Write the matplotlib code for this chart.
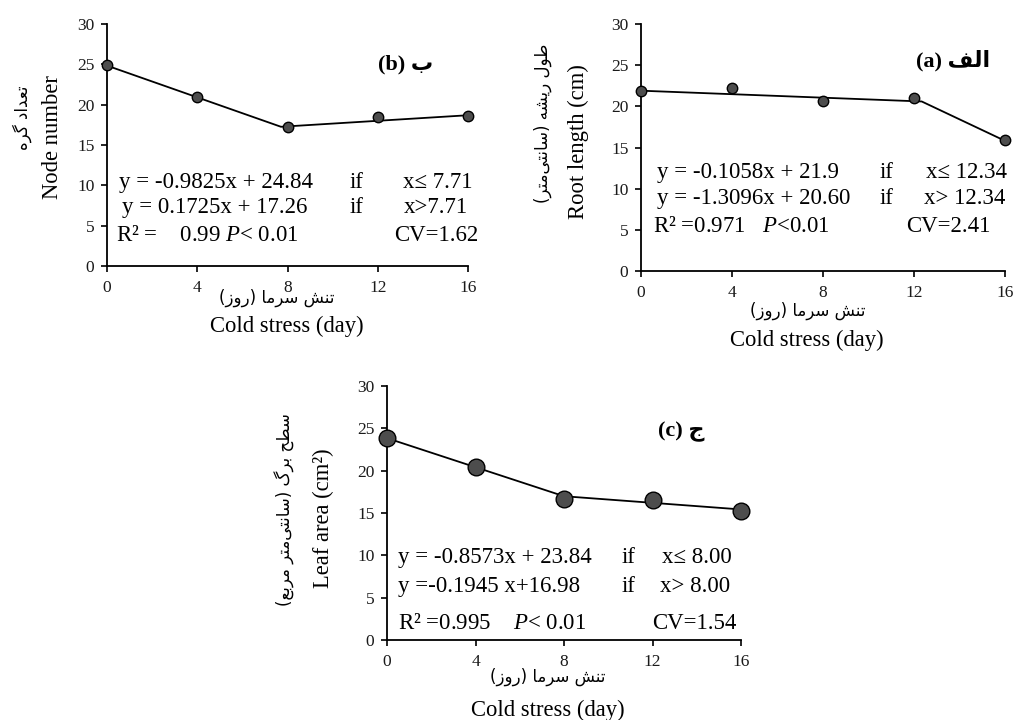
import matplotlib
matplotlib.use('Agg')
import matplotlib.pyplot as plt

plt.rcParams['font.family'] = ['Liberation Serif', 'DejaVu Sans']
plt.rcParams['mathtext.fontset'] = 'custom'
plt.rcParams['mathtext.rm'] = 'Liberation Serif'
plt.rcParams['mathtext.it'] = 'Liberation Serif:italic'

W, H = 1016, 720

days = [0, 4, 8, 12, 16]

# (b) node number
node = [24.9, 21.0, 17.2, 18.5, 18.6]
node_fit_x = [0, 7.71, 16]
node_fit_y = [24.84, 17.26, 18.69]

# (a) root length
root = [21.9, 22.2, 20.6, 21.0, 15.9]
root_fit_x = [0, 12.34, 16]
root_fit_y = [21.9, 20.59, 15.81]

# (c) leaf area
leaf = [23.85, 20.4, 16.7, 16.5, 15.2]
leaf_fit_x = [0, 8, 16]
leaf_fit_y = [23.84, 16.98, 15.42]

# Arabic presentation forms: isolated, final, initial, medial
FORMS = {
    'ا': ('\uFE8D', '\uFE8E', None, None),
    'د': ('\uFEA9', '\uFEAA', None, None),
    'ر': ('\uFEAD', '\uFEAE', None, None),
    'ز': ('\uFEAF', '\uFEB0', None, None),
    'و': ('\uFEED', '\uFEEE', None, None),
    'ب': ('\uFE8F', '\uFE90', '\uFE91', '\uFE92'),
    'ت': ('\uFE95', '\uFE96', '\uFE97', '\uFE98'),
    'ج': ('\uFE9D', '\uFE9E', '\uFE9F', '\uFEA0'),
    'ح': ('\uFEA1', '\uFEA2', '\uFEA3', '\uFEA4'),
    'س': ('\uFEB1', '\uFEB2', '\uFEB3', '\uFEB4'),
    'ش': ('\uFEB5', '\uFEB6', '\uFEB7', '\uFEB8'),
    'ط': ('\uFEC1', '\uFEC2', '\uFEC3', '\uFEC4'),
    'ع': ('\uFEC9', '\uFECA', '\uFECB', '\uFECC'),
    'ف': ('\uFED1', '\uFED2', '\uFED3', '\uFED4'),
    'ل': ('\uFEDD', '\uFEDE', '\uFEDF', '\uFEE0'),
    'م': ('\uFEE1', '\uFEE2', '\uFEE3', '\uFEE4'),
    'ن': ('\uFEE5', '\uFEE6', '\uFEE7', '\uFEE8'),
    'ه': ('\uFEE9', '\uFEEA', '\uFEEB', '\uFEEC'),
    'ی': ('\uFBFC', '\uFBFD', '\uFBFE', '\uFBFF'),
    'گ': ('\uFB92', '\uFB93', '\uFB94', '\uFB95'),
}


# shape + reverse persian text so it draws right to left
def persian(s):
    out = []
    for i, c in enumerate(s):
        if c == '\u200c':
            continue
        if c not in FORMS:
            out.append(c)
            continue
        prev = s[i-1] if i > 0 else ''
        nxt = s[i+1] if i + 1 < len(s) else ''
        f = FORMS[c]
        j_prev = prev in FORMS and FORMS[prev][2] is not None
        j_next = f[2] is not None and nxt in FORMS
        if j_prev and j_next:
            out.append(f[3])
        elif j_prev:
            out.append(f[1])
        elif j_next:
            out.append(f[2])
        else:
            out.append(f[0])
    mirror = {'(': ')', ')': '('}
    return ''.join(mirror.get(c, c) for c in reversed(out))


fig = plt.figure(figsize=(W/100, H/100), dpi=100)


def fx(x):
    return x / W


def fy(y):
    return 1 - y / H


def panel(l, t, r, b, vals, fit_x, fit_y, msize):
    ax = fig.add_axes([l/W, 1 - b/H, (r-l)/W, (b-t)/H])
    ax.plot(fit_x, fit_y, color='black', lw=1.3, zorder=2, clip_on=False)
    ax.plot(days, vals, 'o', ms=msize, mfc='#4d4d4d', mec='black', mew=1.0,
            clip_on=False, zorder=3)
    ax.set_xlim(0, 16)
    ax.set_ylim(0, 30)
    ax.set_xticks(days)
    ax.set_yticks(range(0, 31, 5))
    for s in ['top', 'right']:
        ax.spines[s].set_visible(False)
    for s in ['left', 'bottom']:
        ax.spines[s].set_linewidth(1.3)
    ax.tick_params(direction='out', length=4, width=1.2, labelsize=12.5,
                   color='black', labelcolor='#1a1a1a')
    ax.tick_params(axis='y', pad=5)
    ax.tick_params(axis='x', pad=6)
    return ax


fs = 16.5
lfs = 16.3
pfs = 12
pfam = ['DejaVu Sans']

# ---- (b) node number
ax = panel(107, 24, 468, 266, node, node_fit_x, node_fit_y, 7.5)
ax.text(12.0, 25.0, '(b) ' + persian('ب'), fontsize=16, fontweight='bold', va='center')
ax.text(0.53, 10.4, 'y = -0.9825x + 24.84', fontsize=fs, va='center')
ax.text(0.66, 7.3, 'y = 0.1725x + 17.26', fontsize=fs, va='center')
ax.text(0.40, 3.84, 'R² =    0.99 $\\mathit{P}$< 0.01', fontsize=fs, va='center')
ax.text(10.77, 10.4, 'if', fontsize=fs, va='center')
ax.text(10.77, 7.3, 'if', fontsize=fs, va='center')
ax.text(16.2, 10.4, 'x≤ 7.71', fontsize=fs, va='center', ha='right')
ax.text(16.0, 7.3, 'x>7.71', fontsize=fs, va='center', ha='right')
ax.text(16.45, 3.84, 'CV=1.62', fontsize=fs, va='center', ha='right')
fig.text(fx(52), fy(137), 'Node number', rotation=90, fontsize=lfs, ha='center', va='center')
fig.text(fx(22), fy(118), persian('تعداد گره'), rotation=90, fontsize=pfs,
         family=pfam, ha='center', va='center')
fig.text(fx(277), fy(298), persian('تنش سرما (روز)'), fontsize=pfs, family=pfam,
         ha='center', va='center')
fig.text(fx(287), fy(326), 'Cold stress (day)', fontsize=lfs, ha='center', va='center')

# ---- (a) root length
ax = panel(641, 24, 1005, 271, root, root_fit_x, root_fit_y, 7.5)
ax.text(12.1, 25.6, '(a) ' + persian('الف'), fontsize=16, fontweight='bold', va='center')
ax.text(0.70, 12.0, 'y = -0.1058x + 21.9', fontsize=fs, va='center')
ax.text(0.70, 8.75, 'y = -1.3096x + 20.60', fontsize=fs, va='center')
ax.text(0.53, 5.35, 'R² =0.971   $\\mathit{P}$<0.01', fontsize=fs, va='center')
ax.text(10.5, 12.0, 'if', fontsize=fs, va='center')
ax.text(10.5, 8.75, 'if', fontsize=fs, va='center')
ax.text(16.1, 12.0, 'x≤ 12.34', fontsize=fs, va='center', ha='right')
ax.text(16.0, 8.75, 'x> 12.34', fontsize=fs, va='center', ha='right')
ax.text(15.35, 5.35, 'CV=2.41', fontsize=fs, va='center', ha='right')
fig.text(fx(578), fy(142), 'Root length (cm)', rotation=90, fontsize=lfs, ha='center', va='center')
fig.text(fx(543), fy(123), persian('طول ریشه (سانتی\u200cمتر)'), rotation=90, fontsize=pfs,
         family=pfam, ha='center', va='center')
fig.text(fx(808), fy(311), persian('تنش سرما (روز)'), fontsize=pfs, family=pfam,
         ha='center', va='center')
fig.text(fx(807), fy(340), 'Cold stress (day)', fontsize=lfs, ha='center', va='center')

# ---- (c) leaf area
ax = panel(387, 386, 741, 640, leaf, leaf_fit_x, leaf_fit_y, 12)
ax.text(12.25, 24.6, '(c) ' + persian('ج'), fontsize=16, fontweight='bold', va='center')
ax.text(0.5, 9.7, 'y = -0.8573x + 23.84', fontsize=fs, va='center')
ax.text(0.5, 6.26, 'y =-0.1945 x+16.98', fontsize=fs, va='center')
ax.text(0.5, 2.0, 'R² =0.995    $\\mathit{P}$< 0.01', fontsize=fs, va='center')
ax.text(10.6, 9.7, 'if', fontsize=fs, va='center')
ax.text(10.6, 6.26, 'if', fontsize=fs, va='center')
ax.text(15.6, 9.7, 'x≤ 8.00', fontsize=fs, va='center', ha='right')
ax.text(15.5, 6.26, 'x> 8.00', fontsize=fs, va='center', ha='right')
ax.text(15.8, 2.0, 'CV=1.54', fontsize=fs, va='center', ha='right')
fig.text(fx(323), fy(518), 'Leaf area (cm²)', rotation=90, fontsize=lfs, ha='center', va='center')
fig.text(fx(285), fy(510), persian('سطح برگ (سانتی\u200cمتر مربع)'), rotation=90, fontsize=pfs,
         family=pfam, ha='center', va='center')
fig.text(fx(548), fy(677), persian('تنش سرما (روز)'), fontsize=pfs, family=pfam,
         ha='center', va='center')
fig.text(fx(548), fy(710), 'Cold stress (day)', fontsize=lfs, ha='center', va='center')

fig.savefig('out.png', dpi=100)
